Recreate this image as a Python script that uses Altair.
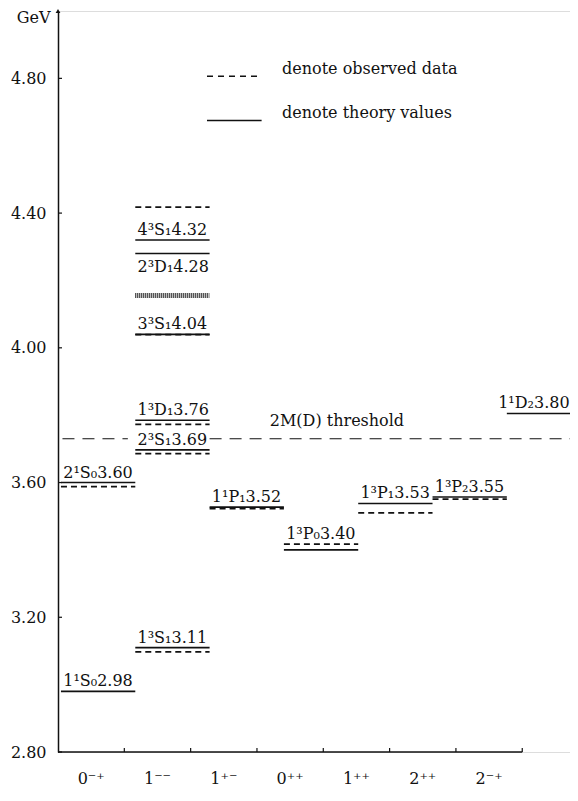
import altair as alt
import pandas as pd

W, H = 512, 741
FONT = "DejaVu Serif"
INK = "#111111"

# --- data -------------------------------------------------------------
jpc_labels = ["0⁻⁺", "1⁻⁻", "1⁺⁻", "0⁺⁺", "1⁺⁺", "2⁺⁺", "2⁻⁺"]

theory_col = [0, 0, 1, 1, 1, 1, 1, 1, 2, 3, 4, 5, 6]
theory_val = [2.98, 3.60, 3.11, 3.697, 3.785, 4.04, 4.28, 4.32, 3.527, 3.40, 3.538, 3.557, 3.805]
state_label = ["1¹S₀2.98", "2¹S₀3.60", "1³S₁3.11", "2³S₁3.69", "1³D₁3.76", "3³S₁4.04",
               "2³D₁4.28", "4³S₁4.32", "1¹P₁3.52", "1³P₀3.40", "1³P₁3.53", "1³P₂3.55", "1¹D₂3.80"]
label_val = [2.98, 3.60, 3.11, 3.697, 3.785, 4.04, 4.28, 4.32, 3.527, 3.417, 3.538, 3.557, 3.805]
label_pos = ["above", "above", "above", "above", "above", "above", "below", "above",
             "above", "above", "above", "above", "edge"]

obs_col = [0, 1, 1, 1, 1, 1, 2, 3, 4, 5]
obs_val = [3.588, 3.097, 3.686, 3.773, 4.039, 4.418, 3.523, 3.417, 3.510, 3.551]

band_col = [1]
band_val = [4.155]

threshold_val = 3.73
threshold_from = [0.02, 2.0]
threshold_to = [0.9, 6.85]
threshold_text = "2M(D) threshold"

y_ticks = [2.80, 3.20, 3.60, 4.00, 4.40, 4.80]
y_top = 5.0

legend_text = ["denote observed data", "denote theory values"]
legend_val = [4.806, 4.675]

# --- scales -----------------------------------------------------------
LEV_DOMAIN = [-0.04, 6.85]      # one unit = one level column
CAT_DOMAIN = [0, 7.72]          # one unit = one J^PC category on the axis

def XL(field):
    return alt.X(field, type="quantitative", scale=alt.Scale(domain=LEV_DOMAIN, nice=False, zero=False), axis=None)

def XL2(field):
    return alt.X2(field)

def XC(field):
    return alt.X(field, type="quantitative", scale=alt.Scale(domain=CAT_DOMAIN, nice=False, zero=False), axis=None)

yaxis = alt.Axis(values=y_ticks, format=".2f", title="GeV", titleAngle=0, titleX=-8, titleY=11,
                 titleAlign="right", titleBaseline="alphabetic", titleFont=FONT, titleFontSize=16,
                 titleFontWeight="normal", titleColor=INK, labelFont=FONT, labelFontSize=16,
                 labelColor=INK, tickSize=0, labelPadding=12, domainColor=INK, domainWidth=1.5,
                 grid=False)

def Y(field):
    return alt.Y(field, type="quantitative", scale=alt.Scale(domain=[2.8, y_top], nice=False, zero=False), axis=yaxis)

# --- tables -----------------------------------------------------------
theory = pd.DataFrame({"c": theory_col, "v": theory_val})
theory["c2"] = theory["c"] + 1
obs = pd.DataFrame({"c": obs_col, "v": obs_val})
obs["c2"] = obs["c"] + 1
band = pd.DataFrame({"c": band_col, "v": band_val})
band["c2"] = band["c"] + 1
labs = pd.DataFrame({"c": theory_col, "v": label_val, "t": state_label, "pos": label_pos})
labs["cx"] = labs["c"] + 0.03
labs["ex"] = LEV_DOMAIN[1] - 0.005
thr = pd.DataFrame({"a": threshold_from, "b": threshold_to, "v": threshold_val})
thr_lab = pd.DataFrame({"tx": [2.81], "v": [threshold_val], "t": [threshold_text]})
cats = pd.DataFrame({"k": list(range(len(jpc_labels))), "t": jpc_labels})
cats["mid"] = cats["k"] + 0.5
cats["tick"] = cats["k"] + 1
base = pd.DataFrame({"a": [0], "b": [len(jpc_labels)]})
yt = pd.DataFrame({"v": y_ticks})
top = pd.DataFrame({"v": [y_top]})
leg = pd.DataFrame({"a": [1.965, 1.965], "b": [2.70, 2.70], "tx": [2.975, 2.975],
                    "v": legend_val, "t": legend_text, "kind": ["obs", "theory"]})

# --- layers -----------------------------------------------------------
theory_lines = alt.Chart(theory).mark_rule(color=INK, strokeWidth=1.6).encode(
    x=XL("c"), x2=XL2("c2"), y=Y("v"))
obs_lines = alt.Chart(obs).mark_rule(color=INK, strokeWidth=1.8, strokeDash=[6, 4]).encode(
    x=XL("c"), x2=XL2("c2"), y=Y("v"))
band_lines = alt.Chart(band).mark_rule(color=INK, strokeWidth=5, strokeDash=[1, 1]).encode(
    x=XL("c"), x2=XL2("c2"), y=Y("v"))

txt = dict(font=FONT, fontSize=16, color=INK, baseline="alphabetic")
lab_above = alt.Chart(labs).transform_filter("datum.pos == 'above'").mark_text(
    align="left", dy=-5, **txt).encode(x=XL("cx"), y=Y("v"), text="t:N")
lab_below = alt.Chart(labs).transform_filter("datum.pos == 'below'").mark_text(
    align="left", dy=18, **txt).encode(x=XL("cx"), y=Y("v"), text="t:N")
lab_edge = alt.Chart(labs).transform_filter("datum.pos == 'edge'").mark_text(
    align="right", dy=-5, **txt).encode(x=XL("ex"), y=Y("v"), text="t:N")

thr_line = alt.Chart(thr).mark_rule(color=INK, strokeWidth=1.2, strokeDash=[12, 8]).encode(
    x=XL("a"), x2=XL2("b"), y=Y("v"))
thr_text = alt.Chart(thr_lab).mark_text(align="left", dy=-13, **txt).encode(
    x=XL("tx"), y=Y("v"), text="t:N")

leg_obs = alt.Chart(leg).transform_filter("datum.kind == 'obs'").mark_rule(
    color=INK, strokeWidth=1.5, strokeDash=[6, 5]).encode(x=XL("a"), x2=XL2("b"), y=Y("v"))
leg_th = alt.Chart(leg).transform_filter("datum.kind == 'theory'").mark_rule(
    color=INK, strokeWidth=1.6).encode(x=XL("a"), x2=XL2("b"), y=Y("v"))
leg_txt = alt.Chart(leg).mark_text(align="left", dy=-2, **txt).encode(
    x=XL("tx"), y=Y("v"), text="t:N")

y_tick_marks = alt.Chart(yt).mark_rule(color=INK, strokeWidth=1.2).encode(
    x=alt.value(0), x2=alt.value(4), y=Y("v"))
arrow = alt.Chart(top).mark_point(shape="triangle-up", filled=True, size=22, color=INK, opacity=1).encode(
    x=alt.value(0), y=Y("v"))

x_base = alt.Chart(base).mark_rule(color=INK, strokeWidth=1.5).encode(
    x=XC("a"), x2=alt.X2("b"), y=alt.value(H))
x_ticks = alt.Chart(cats).mark_rule(color=INK, strokeWidth=1.2).encode(
    x=XC("tick"), y=alt.value(H), y2=alt.value(H - 4))
x_labels = alt.Chart(cats).mark_text(align="center", **txt).encode(
    x=XC("mid"), y=alt.value(H + 32), text="t:N")

chart = alt.layer(
    theory_lines, obs_lines, band_lines, lab_above, lab_below, lab_edge, thr_line, thr_text,
    leg_obs, leg_th, leg_txt, y_tick_marks, arrow, x_base, x_ticks, x_labels
).resolve_scale(x="independent").properties(
    width=W, height=H,
    padding={"left": 50, "top": 3, "right": 0, "bottom": 36},
    autosize=alt.AutoSizeParams(type="none"),
).configure_view(stroke=None).configure(background="white").configure_axis(
    labelFont=FONT, titleFont=FONT, labelFontSize=16, titleFontSize=16,
    labelColor=INK, titleColor=INK, titleFontWeight="normal"
).configure_text(font=FONT)

chart.save("out.html", embed_options={"renderer": "svg", "actions": False})
